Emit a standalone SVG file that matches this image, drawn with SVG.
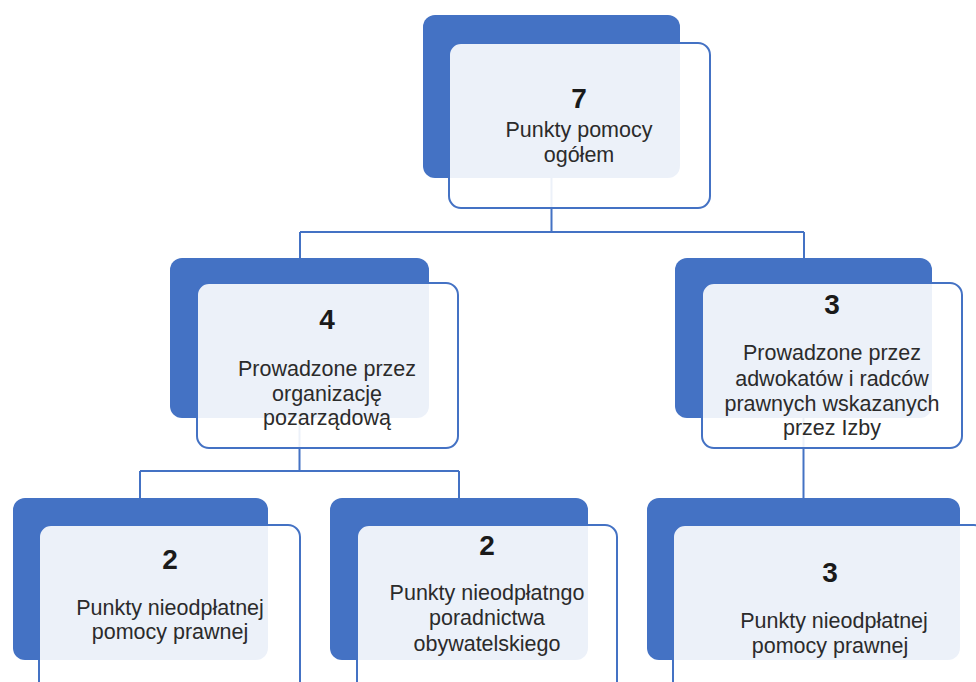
<svg xmlns="http://www.w3.org/2000/svg" width="976" height="682" viewBox="0 0 976 682">
<style>
.back{fill:#4472C4;}
.front{fill:#ffffff;fill-opacity:0.9;stroke:#4472C4;stroke-width:2;}
.num{font-family:"Liberation Sans",Arial,sans-serif;font-weight:bold;font-size:28px;fill:#1a1a1a;text-anchor:middle;}
.lbl{font-family:"Liberation Sans",Arial,sans-serif;font-size:21.5px;fill:#2b2b2b;text-anchor:middle;}
.conn{fill:none;stroke:#4472C4;stroke-width:2;}
</style>
<rect width="976" height="682" fill="#ffffff"/>
<g id="connectors">
<path class="conn" d="M551.5,178 V232 M300,232 H804 M300,232 V258 M804,232 V258"/>
<path class="conn" d="M299.5,418 V471 M140,471 H459 M140,471 V498 M459,471 V498"/>
<path class="conn" d="M803.5,418 V498"/>
</g>
<g id="node-top">
<rect class="back" x="423" y="15" width="257" height="163" rx="12"/>
<rect class="front" x="449" y="43" width="261" height="165" rx="12"/>
<text class="num" x="579" y="108">7</text>
<text class="lbl" x="579" y="137">Punkty pomocy</text>
<text class="lbl" x="579" y="162">ogółem</text>
</g>
<g id="node-ngo">
<rect class="back" x="170" y="258" width="259" height="160" rx="12"/>
<rect class="front" x="197" y="283" width="261" height="165" rx="12"/>
<text class="num" x="327" y="329">4</text>
<text class="lbl" x="327" y="376">Prowadzone przez</text>
<text class="lbl" x="327" y="401">organizację</text>
<text class="lbl" x="327" y="425">pozarządową</text>
</g>
<g id="node-izby">
<rect class="back" x="675" y="258" width="257" height="160" rx="12"/>
<rect class="front" x="702" y="283" width="260" height="165" rx="12"/>
<text class="num" x="832" y="314">3</text>
<text class="lbl" x="832" y="360">Prowadzone przez</text>
<text class="lbl" x="832" y="386">adwokatów i radców</text>
<text class="lbl" x="832" y="411">prawnych wskazanych</text>
<text class="lbl" x="832" y="435">przez Izby</text>
</g>
<g id="node-npp-left">
<rect class="back" x="13" y="498" width="255" height="162" rx="12"/>
<rect class="front" x="39" y="525" width="261" height="170" rx="12"/>
<text class="num" x="170" y="569">2</text>
<text class="lbl" x="170" y="615">Punkty nieodpłatnej</text>
<text class="lbl" x="170" y="639">pomocy prawnej</text>
</g>
<g id="node-npo">
<rect class="back" x="330" y="498" width="258" height="162" rx="12"/>
<rect class="front" x="357" y="525" width="260" height="170" rx="12"/>
<text class="num" x="487" y="555">2</text>
<text class="lbl" x="487" y="600">Punkty nieodpłatngo</text>
<text class="lbl" x="487" y="625">poradnictwa</text>
<text class="lbl" x="487" y="651">obywatelskiego</text>
</g>
<g id="node-npp-right">
<rect class="back" x="647" y="498" width="313" height="162" rx="12"/>
<rect class="front" x="673" y="525" width="313" height="170" rx="12"/>
<text class="num" x="830" y="582">3</text>
<text class="lbl" x="834" y="628">Punkty nieodpłatnej</text>
<text class="lbl" x="830" y="653">pomocy prawnej</text>
</g>
</svg>
